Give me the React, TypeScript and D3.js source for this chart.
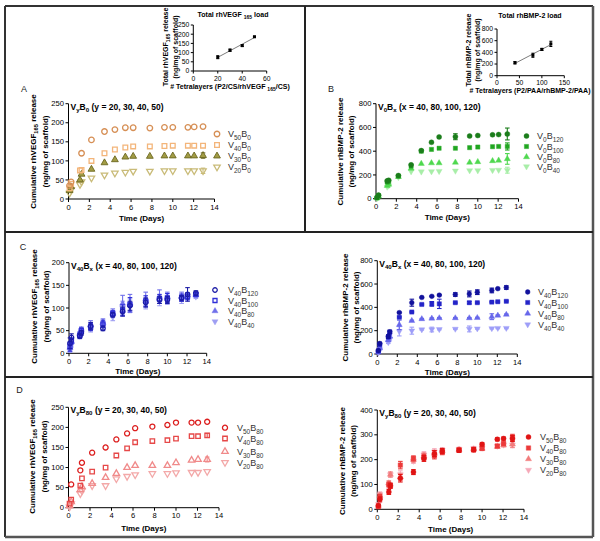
import React from 'react';
import * as d3 from 'd3';

// ---------- DATA ----------
const TIMES = [0.1, 0.25, 1.1, 1.25, 2.2, 3.45, 4.45, 5.45, 6.2, 7.8, 9.2, 10, 11.45, 12.05, 12.9];
const X_TICKS = [0, 2, 4, 6, 8, 10, 12, 14];

// Panel A (V_yB_0, rhVEGF)
const A_V50B0 = [35, 45, null, 120, 155, 177, 182, 187, 187, 186, 188, 188, 188, 189, 190];
const A_V40B0 = [28, 40, 75, 76, 100, 120, 130, 135, 138, 138, 139, 140, 140, 140, 140];
const A_V30B0 = [22, 32, 50, 65, 78, 95, 103, 110, 112, 112, 113, 113, 113, 113, 114];
const A_V20B0 = [15, 25, 38, 45, 55, 63, 68, 70, 73, 73, 74, 74, 74, 74, 74];
const A_ERR_V30 = [0, 0, 0, 0, 0, 0, 0, 0, 0, 0, 0, 0, 0, 0, 7];
const A_ERR_V20 = [0, 0, 0, 0, 0, 0, 0, 0, 0, 0, 0, 0, 0, 0, 7];

// Panel B (V_0B_x, rhBMP-2)
const B_V0B120 = [10, 30, 150, 155, 195, 285, 405, 475, 520, 522, 528, 532, 538, 540, 545];
const B_V0B100 = [8, 25, 140, 145, 190, 275, 400, 415, 425, 425, 430, 435, 438, 440, 440];
const B_V0B80 = [5, 20, 110, 120, 185, 255, 295, 300, 300, 305, 305, 310, 318, 322, 335];
const B_V0B40 = [3, 15, 100, 110, 180, 230, 228, 230, 232, 235, 238, 238, 240, 242, 240];
const B_ERR_120 = [0, 0, 0, 0, 0, 0, 0, 0, 0, 25, 0, 0, 0, 0, 50];
const B_ERR_100 = [0, 0, 0, 0, 0, 0, 0, 0, 0, 0, 0, 0, 0, 0, 30];
const B_ERR_80 = [0, 0, 0, 0, 0, 0, 0, 0, 0, 0, 0, 0, 0, 0, 45];
const B_ERR_40 = [0, 0, 0, 0, 0, 0, 0, 0, 0, 0, 0, 0, 0, 0, 25];

// Panel C left (V_40B_x, rhVEGF)
const C1_V40B120 = [22, 35, 38, 45, 60, 55, 85, 92, 105, 112, 118, 118, 122, 130, 133];
const C1_V40B100 = [15, 28, 40, 50, 58, 65, 88, 95, 108, 115, 120, 122, 123, 125, 130];
const C1_V40B80 = [12, 25, 42, 52, 62, 68, 90, 110, 110, 120, 125, 125, 125, 128, 128];
const C1_V40B40 = [8, 20, 38, 48, 55, 60, 80, 100, 105, 110, 115, 118, 120, 122, 125];
const C1_ERR_120 = [12, 8, 5, 5, 8, 5, 5, 10, 10, 10, 8, 8, 6, 15, 5];
const C1_ERR_100 = [10, 6, 5, 6, 8, 8, 6, 12, 15, 12, 10, 10, 8, 6, 4];
const C1_ERR_80 = [8, 6, 6, 6, 10, 8, 8, 18, 20, 15, 15, 10, 10, 6, 4];
const C1_ERR_40 = [6, 6, 6, 8, 8, 8, 8, 15, 15, 12, 10, 10, 10, 6, 4];

// Panel C right (V_40B_x, rhBMP-2)
const C2_V40B120 = [30, 90, 150, 190, 355, 440, 485, 495, 505, 510, 515, 530, 545, 560, 570];
const C2_V40B100 = [25, 80, 145, 185, 315, 360, 425, 430, 430, 440, 440, 440, 445, 448, 452];
const C2_V40B80 = [15, 50, 120, 150, 250, 285, 300, 305, 308, 308, 308, 310, 320, 330, 338];
const C2_V40B40 = [10, 40, 100, 130, 195, 200, 210, 210, 212, 215, 215, 218, 220, 222, 222];
const C2_ERR_120 = [5, 10, 15, 15, 5, 30, 5, 5, 5, 15, 25, 20, 20, 5, 15];
const C2_ERR_100 = [5, 10, 10, 10, 5, 5, 5, 20, 40, 5, 10, 5, 5, 5, 5];
const C2_ERR_80 = [5, 5, 10, 10, 40, 5, 5, 5, 5, 5, 5, 5, 25, 5, 5];
const C2_ERR_40 = [5, 5, 10, 10, 40, 30, 5, 20, 5, 5, 25, 5, 5, 5, 5];

// Panel D left (V_yB_80, rhVEGF)
const D1_V50B80 = [null, 58, 93, 112, 137, 150, 170, 185, 198, 202, 206, 212, 212, 212, 214];
const D1_V40B80 = [10, 20, 55, 73, 90, 100, 130, 148, 163, 166, 168, 172, 178, 178, 180];
const D1_V30B80 = [5, 15, 45, 52, 60, 75, 85, 100, 105, 105, 105, 112, 118, 120, 120];
const D1_V20B80 = [2, 10, 35, 42, 55, 55, 72, 78, 82, 85, 85, 87, 88, 88, 90];
const D1_ERR_40 = [0, 0, 0, 0, 0, 0, 0, 0, 0, 0, 0, 0, 0, 0, 5];
const D1_ERR_30 = [0, 0, 0, 0, 0, 0, 0, 0, 0, 0, 0, 0, 0, 0, 6];

// Panel D right (V_yB_80, rhBMP-2)
const D2_V50B80 = [15, 40, 70, 95, 125, 150, 205, 225, 235, 238, 240, 262, 282, 285, 285];
const D2_V40B80 = [10, 50, 100, 95, 178, 205, 210, 215, 230, 238, 240, 245, 255, 265, 290];
const D2_V30B80 = [15, 55, 105, 140, 130, 200, 215, 225, 235, 240, 242, 245, 252, 258, 262];
const D2_V20B80 = [20, 60, 95, 140, 140, 195, 220, 232, 238, 242, 245, 248, 255, 260, 260];
const D2_ERR = [5, 10, 10, 10, 15, 10, 12, 12, 10, 8, 8, 6, 6, 6, 12];

// Insets: total load
const INSET_A_X = [20, 30, 40, 50];
const INSET_A_Y = [75, 113, 138, 186];
const INSET_A_ERR = [8, 6, 5, 3];
const INSET_B_X = [40, 80, 100, 120];
const INSET_B_Y = [222, 350, 450, 545];
const INSET_B_ERR = [20, 35, 18, 45];

// ---------- HELPERS ----------
const FONT = 'Liberation Sans, Arial, Helvetica, sans-serif';

type Part = { t: string; sub: boolean };
function parse(s: string): Part[] {
  const out: Part[] = [];
  const re = /_\{([^}]*)\}/g;
  let last = 0;
  let m: RegExpExecArray | null;
  while ((m = re.exec(s))) {
    if (m.index > last) out.push({ t: s.slice(last, m.index), sub: false });
    out.push({ t: m[1], sub: true });
    last = m.index + m[0].length;
  }
  if (last < s.length) out.push({ t: s.slice(last), sub: false });
  return out;
}

function Rich({ s, fs }: { s: string; fs: number }) {
  return (
    <>
      {parse(s).map((p, i) => (
        <tspan key={i} fontSize={p.sub ? fs * 0.72 : fs} baselineShift={p.sub ? -fs * 0.28 : 0}>
          {p.t}
        </tspan>
      ))}
    </>
  );
}

type Sym = 'circle' | 'square' | 'triangle' | 'down';

function Marker({ x, y, sym, size, color, fill, stroke }: any) {
  const t = sym === 'circle' ? d3.symbolCircle : sym === 'square' ? d3.symbolSquare : d3.symbolTriangle;
  const d = d3.symbol().type(t).size(size)() as string;
  const rot = sym === 'down' ? ' rotate(180)' : '';
  return (
    <path
      d={d}
      transform={`translate(${x},${y})${rot}`}
      fill={fill ? (stroke ? fill : color) : 'white'}
      fillOpacity={fill ? 1 : 0}
      stroke={stroke || color}
      strokeWidth={fill ? (stroke ? 0.9 : 0.4) : 1.3}
    />
  );
}

interface Series {
  label: string;
  values: (number | null)[];
  errors?: number[];
  sym: Sym;
  color: string;
  fill?: string | boolean;
  stroke?: string;
  size: number;
}

interface PanelCfg {
  x0: number;
  x1: number;
  y0: number;
  y1: number;
  ymax: number;
  ystep: number;
  title: string;
  yl1: string;
  yl2: string;
  ylx1: number;
  ylx2: number;
  ylc: number;
  xly: number;
  series: Series[];
  legX: number;
  legTX: number;
  legY: number[];
}

function Panel({ c }: { c: PanelCfg }) {
  const x = d3.scaleLinear().domain([0, 14]).range([c.x0, c.x1]);
  const y = d3.scaleLinear().domain([0, c.ymax]).range([c.y0, c.y1]);
  const yTicks = d3.range(0, c.ymax + 0.001, c.ystep);
  const fsT = 7.6;
  return (
    <g fontFamily={FONT}>
      {/* axes */}
      <line x1={c.x0} x2={c.x0} y1={c.y0} y2={c.y1} stroke="#000" strokeWidth={1} />
      <line x1={c.x0} x2={c.x1} y1={c.y0} y2={c.y0} stroke="#000" strokeWidth={1} />
      {yTicks.map((v) => (
        <g key={'y' + v}>
          <line x1={c.x0 - 3} x2={c.x0} y1={y(v)} y2={y(v)} stroke="#000" />
          <text x={c.x0 - 4.5} y={y(v)} dy="0.35em" textAnchor="end" fontSize={fsT}>
            {v}
          </text>
        </g>
      ))}
      {X_TICKS.map((v) => (
        <g key={'x' + v}>
          <line x1={x(v)} x2={x(v)} y1={c.y0} y2={c.y0 + 3} stroke="#000" />
          <text x={x(v)} y={c.y0 + 10.5} textAnchor="middle" fontSize={fsT}>
            {v}
          </text>
        </g>
      ))}
      <text x={(c.x0 + c.x1) / 2} y={c.xly} textAnchor="middle" fontSize={8} fontWeight="bold">
        Time (Days)
      </text>
      <text transform={`translate(${c.ylx1},${c.ylc}) rotate(-90)`} textAnchor="middle" fontSize={8} fontWeight="bold">
        <Rich s={c.yl1} fs={8} />
      </text>
      <text transform={`translate(${c.ylx2},${c.ylc}) rotate(-90)`} textAnchor="middle" fontSize={8} fontWeight="bold">
        <Rich s={c.yl2} fs={8} />
      </text>
      <text x={c.x0 + 2} y={c.y1 + 6} fontSize={8.5} fontWeight="bold">
        <Rich s={c.title} fs={8.5} />
      </text>
      {/* data, last series drawn first */}
      {[...c.series].reverse().map((s, si) => (
        <g key={'s' + si}>
          {s.values.map((v, i) => {
            if (v == null) return null;
            const e = s.errors ? s.errors[i] : 0;
            if (!e) return null;
            const cx = x(TIMES[i]);
            return (
              <g key={'e' + i} stroke={s.stroke || s.color} strokeWidth={1.1}>
                <line x1={cx} x2={cx} y1={y(v - e)} y2={y(v + e)} />
                <line x1={cx - 2.3} x2={cx + 2.3} y1={y(v - e)} y2={y(v - e)} />
                <line x1={cx - 2.3} x2={cx + 2.3} y1={y(v + e)} y2={y(v + e)} />
              </g>
            );
          })}
          {s.values.map((v, i) =>
            v == null ? null : (
              <Marker key={'m' + i} x={x(TIMES[i])} y={y(v)} sym={s.sym} size={s.size} color={s.color} fill={s.fill} stroke={s.stroke} />
            )
          )}
        </g>
      ))}
      {/* legend */}
      {c.series.map((s, i) => (
        <g key={'l' + i}>
          <Marker x={c.legX} y={c.legY[i]} sym={s.sym} size={s.size} color={s.color} fill={s.fill} stroke={s.stroke} />
          <text x={c.legTX} y={c.legY[i]} dy="0.35em" fontSize={9} fill="#333">
            <Rich s={s.label} fs={9} />
          </text>
        </g>
      ))}
    </g>
  );
}

interface InsetCfg {
  x0: number;
  x1: number;
  y0: number;
  y1: number;
  xmax: number;
  xstep: number;
  ymax: number;
  ystep: number;
  xs: number[];
  ys: number[];
  errs: number[];
  title: string;
  titleX: number;
  titleY: number;
  yl1: string;
  yl2: string;
  ylx1: number;
  ylx2: number;
  ylc: number;
  xl: string;
  xlx: number;
  xly: number;
}

function Inset({ c }: { c: InsetCfg }) {
  const x = d3.scaleLinear().domain([0, c.xmax]).range([c.x0, c.x1]);
  const y = d3.scaleLinear().domain([0, c.ymax]).range([c.y0, c.y1]);
  const xt = d3.range(0, c.xmax + 0.001, c.xstep);
  const yt = d3.range(0, c.ymax + 0.001, c.ystep);
  // least squares fit
  const mx = d3.mean(c.xs) as number;
  const my = d3.mean(c.ys) as number;
  const slope = d3.sum(c.xs.map((v, i) => (v - mx) * (c.ys[i] - my))) / d3.sum(c.xs.map((v) => (v - mx) ** 2));
  const icpt = my - slope * mx;
  const xa = c.xs[0];
  const xb = c.xs[c.xs.length - 1];
  const fs = 6.8;
  return (
    <g fontFamily={FONT}>
      <line x1={c.x0} x2={c.x0} y1={c.y0} y2={c.y1} stroke="#000" />
      <line x1={c.x0} x2={c.x1} y1={c.y0} y2={c.y0} stroke="#000" />
      {yt.map((v) => (
        <g key={'y' + v}>
          <line x1={c.x0 - 2.5} x2={c.x0} y1={y(v)} y2={y(v)} stroke="#000" />
          <text x={c.x0 - 4} y={y(v)} dy="0.35em" textAnchor="end" fontSize={fs}>
            {v}
          </text>
        </g>
      ))}
      {xt.map((v) => (
        <g key={'x' + v}>
          <line x1={x(v)} x2={x(v)} y1={c.y0} y2={c.y0 + 2.5} stroke="#000" />
          <text x={x(v)} y={c.y0 + 9.5} textAnchor="middle" fontSize={fs}>
            {v}
          </text>
        </g>
      ))}
      <line x1={x(xa)} x2={x(xb)} y1={y(icpt + slope * xa)} y2={y(icpt + slope * xb)} stroke="#444" strokeWidth={0.7} />
      {c.xs.map((v, i) => (
        <g key={'p' + i}>
          <line x1={x(v)} x2={x(v)} y1={y(c.ys[i] - c.errs[i])} y2={y(c.ys[i] + c.errs[i])} stroke="#000" />
          <line x1={x(v) - 1.5} x2={x(v) + 1.5} y1={y(c.ys[i] - c.errs[i])} y2={y(c.ys[i] - c.errs[i])} stroke="#000" />
          <line x1={x(v) - 1.5} x2={x(v) + 1.5} y1={y(c.ys[i] + c.errs[i])} y2={y(c.ys[i] + c.errs[i])} stroke="#000" />
          <rect x={x(v) - 1.5} y={y(c.ys[i]) - 1.5} width={3} height={3} fill="#000" />
        </g>
      ))}
      <text x={c.titleX} y={c.titleY} textAnchor="middle" fontSize={7} fontWeight="bold">
        <Rich s={c.title} fs={7} />
      </text>
      <text transform={`translate(${c.ylx1},${c.ylc}) rotate(-90)`} textAnchor="middle" fontSize={7} fontWeight="bold">
        <Rich s={c.yl1} fs={7} />
      </text>
      <text transform={`translate(${c.ylx2},${c.ylc}) rotate(-90)`} textAnchor="middle" fontSize={7} fontWeight="bold">
        <Rich s={c.yl2} fs={7} />
      </text>
      <text x={c.xlx} y={c.xly} textAnchor="middle" fontSize={7} fontWeight="bold">
        <Rich s={c.xl} fs={7} />
      </text>
    </g>
  );
}

// ---------- CONFIG ----------
const VEGF_L1 = 'Cumulative rhVEGF_{165} release';
const BMP_L1 = 'Cumulative rhBMP-2 release';
const L2 = '(ng/mg of scaffold)';

const panelA: PanelCfg = {
  x0: 68.5, x1: 214.5, y0: 199, y1: 103.7, ymax: 250, ystep: 50,
  title: 'V_{y}B_{0} (y = 20, 30, 40, 50)',
  yl1: VEGF_L1, yl2: L2, ylx1: 36, ylx2: 48, ylc: 151.5, xly: 221,
  legX: 217, legTX: 228, legY: [134, 145, 156, 167],
  series: [
    { label: 'V_{50}B_{0}', values: A_V50B0, sym: 'circle', color: '#d68f55', size: 24 },
    { label: 'V_{40}B_{0}', values: A_V40B0, sym: 'square', color: '#f3b57a', size: 22 },
    { label: 'V_{30}B_{0}', values: A_V30B0, errors: A_ERR_V30, sym: 'triangle', color: '#8e8a30', fill: '#a29c45', stroke: '#6b6820', size: 20 },
    { label: 'V_{20}B_{0}', values: A_V20B0, errors: A_ERR_V20, sym: 'down', color: '#c9bb78', size: 18 },
  ],
};

const panelB: PanelCfg = {
  x0: 376, x1: 518.5, y0: 198.7, y1: 103.7, ymax: 800, ystep: 200,
  title: 'V_{0}B_{x} (x = 40, 80, 100, 120)',
  yl1: BMP_L1, yl2: L2, ylx1: 343, ylx2: 354, ylc: 151.5, xly: 220,
  legX: 526.5, legTX: 537, legY: [136, 146.5, 157, 166.5],
  series: [
    { label: 'V_{0}B_{120}', values: B_V0B120, errors: B_ERR_120, sym: 'circle', color: '#1b7d1b', fill: true, size: 20 },
    { label: 'V_{0}B_{100}', values: B_V0B100, errors: B_ERR_100, sym: 'square', color: '#20a620', fill: true, size: 18 },
    { label: 'V_{0}B_{80}', values: B_V0B80, errors: B_ERR_80, sym: 'triangle', color: '#4fd84f', fill: true, size: 16 },
    { label: 'V_{0}B_{40}', values: B_V0B40, errors: B_ERR_40, sym: 'down', color: '#a8eea8', fill: true, size: 16 },
  ],
};

const panelC1: PanelCfg = {
  x0: 69, x1: 206.7, y0: 353.3, y1: 262.7, ymax: 200, ystep: 50,
  title: 'V_{40}B_{x} (x = 40, 80, 100, 120)',
  yl1: VEGF_L1, yl2: L2, ylx1: 37, ylx2: 48.5, ylc: 306.5, xly: 373.5,
  legX: 215, legTX: 228, legY: [290, 300.5, 311, 321.5],
  series: [
    { label: 'V_{40}B_{120}', values: C1_V40B120, errors: C1_ERR_120, sym: 'circle', color: '#1c1ca6', size: 16 },
    { label: 'V_{40}B_{100}', values: C1_V40B100, errors: C1_ERR_100, sym: 'square', color: '#2f2fd8', size: 16 },
    { label: 'V_{40}B_{80}', values: C1_V40B80, errors: C1_ERR_80, sym: 'triangle', color: '#7070ea', fill: true, size: 16 },
    { label: 'V_{40}B_{40}', values: C1_V40B40, errors: C1_ERR_40, sym: 'down', color: '#9e9ef3', fill: true, size: 16 },
  ],
};

const panelC2: PanelCfg = {
  x0: 377.3, x1: 517.3, y0: 354, y1: 260.7, ymax: 800, ystep: 200,
  title: 'V_{40}B_{x} (x = 40, 80, 100, 120)',
  yl1: BMP_L1, yl2: L2, ylx1: 348, ylx2: 358.5, ylc: 307.5, xly: 374.5,
  legX: 527.7, legTX: 538, legY: [292, 302.5, 313.5, 324.5],
  series: [
    { label: 'V_{40}B_{120}', values: C2_V40B120, errors: C2_ERR_120, sym: 'circle', color: '#12129c', fill: true, size: 18 },
    { label: 'V_{40}B_{100}', values: C2_V40B100, errors: C2_ERR_100, sym: 'square', color: '#2424c8', fill: true, size: 18 },
    { label: 'V_{40}B_{80}', values: C2_V40B80, errors: C2_ERR_80, sym: 'triangle', color: '#6767ea', fill: true, size: 15 },
    { label: 'V_{40}B_{40}', values: C2_V40B40, errors: C2_ERR_40, sym: 'down', color: '#9e9ef8', fill: true, size: 15 },
  ],
};

const panelD1: PanelCfg = {
  x0: 68.5, x1: 219, y0: 507.7, y1: 407.3, ymax: 250, ystep: 50,
  title: 'V_{y}B_{80} (y = 20, 30, 40, 50)',
  yl1: VEGF_L1, yl2: L2, ylx1: 35, ylx2: 47, ylc: 456.5, xly: 531,
  legX: 225, legTX: 237, legY: [427.7, 438.5, 451.5, 462.5],
  series: [
    { label: 'V_{50}B_{80}', values: D1_V50B80, sym: 'circle', color: '#dc1e1e', size: 20 },
    { label: 'V_{40}B_{80}', values: D1_V40B80, errors: D1_ERR_40, sym: 'square', color: '#e64848', size: 20 },
    { label: 'V_{30}B_{80}', values: D1_V30B80, errors: D1_ERR_30, sym: 'triangle', color: '#f08a8a', size: 18 },
    { label: 'V_{20}B_{80}', values: D1_V20B80, sym: 'down', color: '#f3a8a8', size: 18 },
  ],
};

const panelD2: PanelCfg = {
  x0: 377.3, x1: 524, y0: 509.3, y1: 410, ymax: 400, ystep: 100,
  title: 'V_{y}B_{80} (y = 20, 30, 40, 50)',
  yl1: BMP_L1, yl2: L2, ylx1: 345, ylx2: 355.5, ylc: 461, xly: 532,
  legX: 528.5, legTX: 540, legY: [437, 448, 459, 470],
  series: [
    { label: 'V_{50}B_{80}', values: D2_V50B80, errors: D2_ERR, sym: 'circle', color: '#e01414', fill: true, size: 20 },
    { label: 'V_{40}B_{80}', values: D2_V40B80, errors: D2_ERR, sym: 'square', color: '#ec3a3a', fill: true, size: 20 },
    { label: 'V_{30}B_{80}', values: D2_V30B80, errors: D2_ERR, sym: 'triangle', color: '#f27c7c', fill: true, size: 16 },
    { label: 'V_{20}B_{80}', values: D2_V20B80, errors: D2_ERR, sym: 'down', color: '#f6a8b8', fill: true, size: 16 },
  ],
};

const insetA: InsetCfg = {
  x0: 193.3, x1: 266.7, y0: 71, y1: 25, xmax: 60, xstep: 20, ymax: 250, ystep: 50,
  xs: INSET_A_X, ys: INSET_A_Y, errs: INSET_A_ERR,
  title: 'Total rhVEGF _{165} load', titleX: 233, titleY: 16.5,
  yl1: 'Total rhVEGF_{165} release', yl2: L2, ylx1: 168, ylx2: 177.5, ylc: 47,
  xl: '# Tetralayers (P2/CS/rhVEGF _{165}/CS)', xlx: 230, xly: 88.5,
};

const insetB: InsetCfg = {
  x0: 497, x1: 564.3, y0: 75.7, y1: 29, xmax: 150, xstep: 50, ymax: 800, ystep: 200,
  xs: INSET_B_X, ys: INSET_B_Y, errs: INSET_B_ERR,
  title: 'Total rhBMP-2 load', titleX: 530, titleY: 17.5,
  yl1: 'Total rhBMP-2 release', yl2: L2, ylx1: 470.5, ylx2: 480, ylc: 50,
  xl: '# Tetralayers (P2/PAA/rhBMP-2/PAA)', xlx: 530, xly: 92.5,
};

export default function App() {
  return (
    <svg width={600} height={541} style={{ position: 'absolute', left: 0, top: 0, background: '#fff' }}>
      <rect width={600} height={541} fill="#fff" />
      {/* frame */}
      <g strokeWidth={2} fill="none">
        <line x1={5} x2={593} y1={6} y2={6} stroke="#333" />
        <line x1={5} x2={5} y1={6} y2={537} stroke="#333" />
        <line x1={593} x2={593} y1={6} y2={537} stroke="#555" strokeWidth={2.5} />
        <line x1={5} x2={593} y1={537} y2={537} stroke="#555" strokeWidth={2.5} />
        <line x1={5} x2={593} y1={232} y2={232} stroke="#222" />
        <line x1={5} x2={593} y1={377} y2={377} stroke="#222" />
        <line x1={305} x2={305} y1={6} y2={232} stroke="#222" />
      </g>
      <g fontFamily={FONT} fontSize={9} fill="#222">
        <text x={24} y={92} textAnchor="middle">A</text>
        <text x={331} y={92} textAnchor="middle">B</text>
        <text x={23} y={250} textAnchor="middle">C</text>
        <text x={19.5} y={393} textAnchor="middle">D</text>
      </g>
      <Inset c={insetA} />
      <Inset c={insetB} />
      <Panel c={panelA} />
      <Panel c={panelB} />
      <Panel c={panelC1} />
      <Panel c={panelC2} />
      <Panel c={panelD1} />
      <Panel c={panelD2} />
    </svg>
  );
}
